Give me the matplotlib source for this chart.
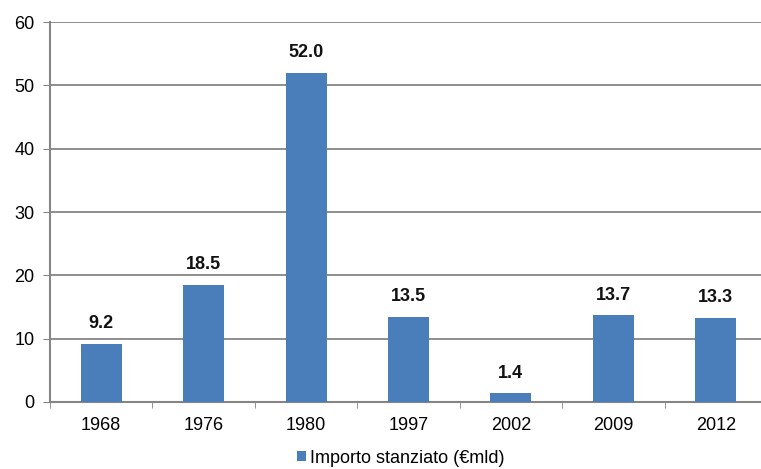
import matplotlib.pyplot as plt
import numpy as np

plt.rcParams['font.family'] = ['Liberation Sans', 'DejaVu Sans']

years = ['1968', '1976', '1980', '1997', '2002', '2009', '2012']
amounts = [9.2, 18.5, 52.0, 13.5, 1.4, 13.7, 13.3]

bar_color = '#4A7EBB'
grid_color = '#858585'

fig = plt.figure(figsize=(7.61, 4.69), dpi=100)
ax = fig.add_axes([50 / 761, 1 - 402 / 469, 717 / 761, 380 / 469])

x = np.arange(len(years))
bars = ax.bar(x, amounts, width=0.4, color=bar_color, zorder=3,
              label='Importo stanziato (€mld)')

for xi, v in zip(x, amounts):
    ax.text(xi, v + 1.8, f'{v:.1f}', ha='center', va='bottom',
            fontsize=13, fontweight='bold', color='#111111')

ax.set_xlim(-0.5, len(years) - 0.5)
ax.set_ylim(0, 60)
ax.set_yticks(range(0, 61, 10))
ax.yaxis.grid(True, color=grid_color, linewidth=1.3, zorder=0)

ax.set_xticks(x)
ax.set_xticklabels(years)
ax.set_xticks(np.arange(-0.5, len(years), 1), minor=True)
ax.tick_params(axis='x', which='major', length=0, pad=11, labelsize=13)
ax.tick_params(axis='x', which='minor', length=4, color=grid_color)
ax.tick_params(axis='y', length=5, color=grid_color, labelsize=13, pad=6)

for s in ['top', 'right']:
    ax.spines[s].set_visible(False)
for s in ['left', 'bottom']:
    ax.spines[s].set_color(grid_color)
    ax.spines[s].set_linewidth(1.5)

fig.legend(handles=[bars], labels=['Importo stanziato (€mld)'],
           loc='center', bbox_to_anchor=(401 / 761, 1 - 458 / 469),
           frameon=False, fontsize=13, handlelength=0.5, handleheight=0.5,
           handletextpad=0.2)

fig.savefig('out.png', dpi=100)
